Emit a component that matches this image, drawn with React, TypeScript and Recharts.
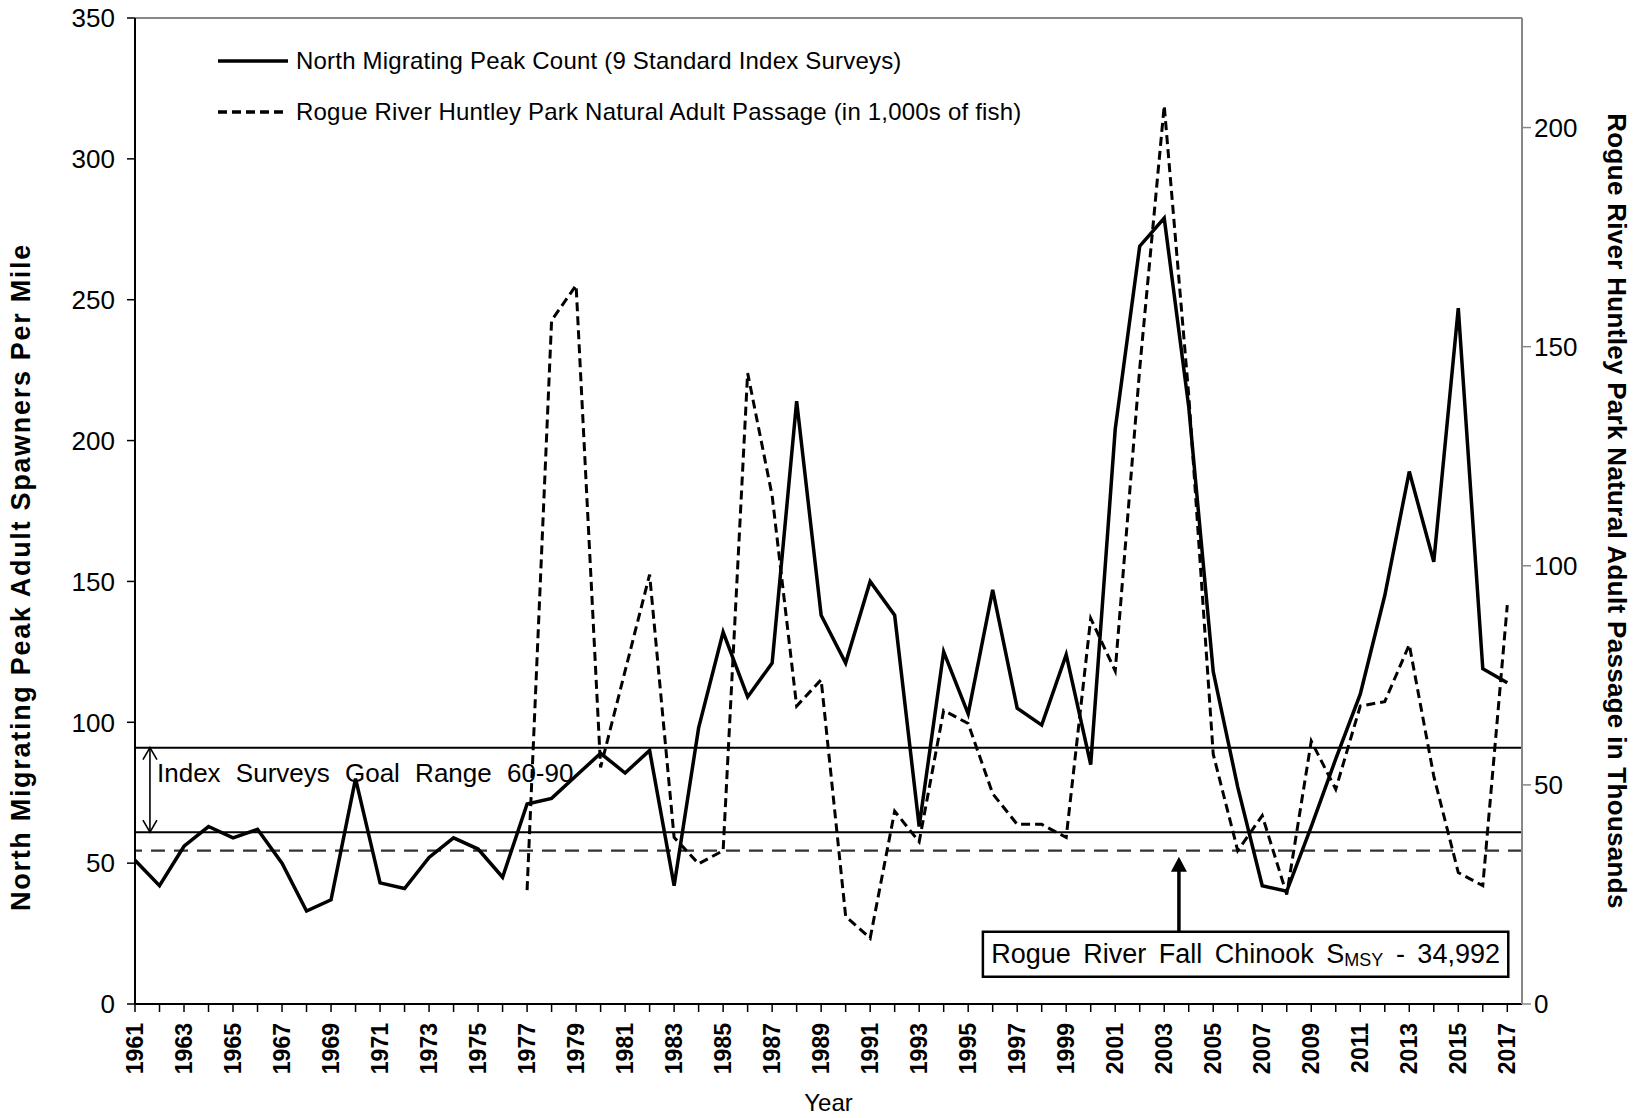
import { Legend, Line, LineChart, ReferenceArea, ReferenceLine, XAxis, YAxis } from 'recharts';

const FONT = "'Liberation Sans', Arial, sans-serif";

const years = [
  1961, 1962, 1963, 1964, 1965, 1966, 1967, 1968, 1969, 1970, 1971, 1972, 1973, 1974, 1975, 1976,
  1977, 1978, 1979, 1980, 1981, 1982, 1983, 1984, 1985, 1986, 1987, 1988, 1989, 1990, 1991, 1992,
  1993, 1994, 1995, 1996, 1997, 1998, 1999, 2000, 2001, 2002, 2003, 2004, 2005, 2006, 2007, 2008,
  2009, 2010, 2011, 2012, 2013, 2014, 2015, 2016, 2017,
];

// North migrating peak adult spawners per mile (left axis), 1961-2017
const spawnersPerMile = [
  51, 42, 56, 63, 59, 62, 50, 33, 37, 80, 43, 41, 52, 59, 55, 45,
  71, 73, 81, 89, 82, 90, 42, 98, 132, 109, 121, 214, 138, 121, 150, 138,
  63, 125, 103, 147, 105, 99, 124, 85, 204, 269, 279, 212, 118, 77, 42, 40,
  63, 87, 110, 145, 189, 157, 247, 119, 114,
];

// Huntley Park natural adult passage, thousands of fish (right axis), 1977-2017
const passageStartYear = 1977;
const huntleyPassage = [
  26, 156, 164, 54, 76, 98, 38, 32, 35, 144, 116, 68, 74, 20, 15, 44,
  37, 67, 64, 48, 41, 41, 38, 88, 76, 145, 205, 139, 57, 35, 43, 25,
  60, 49, 68, 69, 82, 52, 30, 27, 91,
];

const leftTicks = [0, 50, 100, 150, 200, 250, 300, 350];
const rightTicks = [0, 50, 100, 150, 200];
const goalLow = 61;
const goalHigh = 91;
const smsyThousands = 34.992;

const legendItems = [
  { label: 'North Migrating Peak Count (9 Standard Index Surveys)', dash: undefined },
  { label: 'Rogue River Huntley Park Natural Adult Passage (in 1,000s of fish)', dash: '9 5' },
];

const data = years.map((year, i) => ({
  year,
  spawners: spawnersPerMile[i],
  passage: year >= passageStartYear ? huntleyPassage[year - passageStartYear] : null,
}));

function YearTick({ x, y, payload }: any) {
  if (payload.value % 2 === 0) return <g />;
  return (
    <text
      transform={`translate(${x},${y + 9}) rotate(-90)`}
      textAnchor="end"
      dominantBaseline="central"
      fontFamily={FONT}
      fontWeight="bold"
      fontSize={23}
      fill="#000"
    >
      {payload.value}
    </text>
  );
}

function DoubleArrow({ x1, y1, x2, y2 }: any) {
  const top = Math.min(y1, y2);
  const bottom = Math.max(y1, y2);
  return (
    <g stroke="#000" strokeWidth={1.6} fill="none">
      <line x1={x1} y1={top} x2={x2} y2={bottom} />
      <polyline points={`${x1 - 7},${top + 12} ${x1},${top} ${x1 + 7},${top + 12}`} />
      <polyline points={`${x1 - 7},${bottom - 12} ${x1},${bottom} ${x1 + 7},${bottom - 12}`} />
    </g>
  );
}

function UpArrow({ x1, y1, x2, y2 }: any) {
  const top = Math.min(y1, y2);
  const bottom = Math.max(y1, y2);
  return (
    <g>
      <line x1={x1} y1={top + 10} x2={x2} y2={bottom} stroke="#000" strokeWidth={3.5} />
      <polygon points={`${x1 - 8},${top + 15} ${x1},${top} ${x1 + 8},${top + 15}`} fill="#000" />
    </g>
  );
}

function renderLegend() {
  return (
    <div style={{ fontFamily: FONT, fontSize: 24, color: '#000' }}>
      {legendItems.map((item) => (
        <div key={item.label} style={{ display: 'flex', alignItems: 'center', height: 51 }}>
          <svg width={70} height={8} style={{ marginRight: 8 }}>
            <line x1={0} y1={4} x2={70} y2={4} stroke="#000" strokeWidth={3.5} strokeDasharray={item.dash} />
          </svg>
          <span style={{ letterSpacing: 0.2, whiteSpace: 'nowrap' }}>{item.label}</span>
        </div>
      ))}
    </div>
  );
}

export default function App() {
  return (
    <div style={{ position: 'absolute', left: 0, top: 0, background: '#fff' }}>
      <LineChart width={1642} height={1118} data={data} margin={{ top: 18, right: 20, bottom: 0, left: 35 }}>
        <XAxis
          dataKey="year"
          type="number"
          domain={[1961, 2017.6]}
          ticks={years}
          interval={0}
          height={114}
          tickSize={8}
          tickMargin={2}
          axisLine={{ stroke: '#000', strokeWidth: 2 }}
          tickLine={{ stroke: '#000', strokeWidth: 1.5 }}
          tick={<YearTick />}
          label={({ viewBox }: any) => (
            <text
              x={viewBox.x + viewBox.width / 2}
              y={viewBox.y + 98}
              textAnchor="middle"
              dominantBaseline="central"
              fontFamily={FONT}
              fontSize={24}
              fill="#000"
            >
              Year
            </text>
          )}
        />
        <YAxis
          yAxisId="left"
          domain={[0, 350]}
          ticks={leftTicks}
          width={100}
          tickSize={8}
          tickMargin={12}
          axisLine={{ stroke: '#000', strokeWidth: 2 }}
          tickLine={{ stroke: '#000', strokeWidth: 1.5 }}
          tick={{ fontFamily: FONT, fontSize: 26, fill: '#000' }}
          label={({ viewBox }: any) => {
            const cx = viewBox.x - 14;
            const cy = viewBox.y + viewBox.height / 2 + 66;
            return (
              <text
                x={cx}
                y={cy}
                transform={`rotate(-90, ${cx}, ${cy})`}
                textAnchor="middle"
                dominantBaseline="central"
                fontFamily={FONT}
                fontWeight="bold"
                fontSize={27}
                letterSpacing={1.7}
                fill="#000"
              >
                North Migrating Peak Adult Spawners Per Mile
              </text>
            );
          }}
        />
        <YAxis
          yAxisId="right"
          orientation="right"
          domain={[0, 225]}
          ticks={rightTicks}
          width={100}
          tickSize={9}
          tickMargin={3}
          axisLine={{ stroke: '#888', strokeWidth: 2 }}
          tickLine={{ stroke: '#888', strokeWidth: 1.5 }}
          tick={{ fontFamily: FONT, fontSize: 26, fill: '#000' }}
          label={({ viewBox }: any) => {
            const cx = viewBox.x + 95;
            const cy = viewBox.y + viewBox.height / 2;
            return (
              <text
                x={cx}
                y={cy}
                transform={`rotate(90, ${cx}, ${cy})`}
                textAnchor="middle"
                dominantBaseline="central"
                fontFamily={FONT}
                fontWeight="bold"
                fontSize={26}
                letterSpacing={0.3}
                fill="#000"
              >
                Rogue River Huntley Park Natural Adult Passage in Thousands
              </text>
            );
          }}
        />
        <Legend
          layout="horizontal"
          verticalAlign="middle"
          align="center"
          content={renderLegend}
          wrapperStyle={{ left: 218, top: 35, width: 900, height: 102 }}
        />

        <ReferenceLine yAxisId="left" y={350} stroke="#888" strokeWidth={2} />
        <ReferenceLine
          yAxisId="left"
          y={goalHigh}
          stroke="#000"
          strokeWidth={2}
          label={({ viewBox }: any) => (
            <text
              x={viewBox.x + 22}
              y={viewBox.y + 25}
              dominantBaseline="central"
              fontFamily={FONT}
              fontSize={26}
              wordSpacing={8}
              fill="#000"
            >
              Index Surveys Goal Range 60-90
            </text>
          )}
        />
        <ReferenceLine yAxisId="left" y={goalLow} stroke="#000" strokeWidth={2} />
        <ReferenceLine
          yAxisId="left"
          segment={[
            { x: 1961.61, y: goalLow },
            { x: 1961.61, y: goalHigh },
          ]}
          shape={DoubleArrow}
        />
        <ReferenceLine yAxisId="right" y={smsyThousands} stroke="#333" strokeWidth={2.2} strokeDasharray="14 9" />

        <Line
          yAxisId="right"
          type="linear"
          dataKey="passage"
          stroke="#000"
          strokeWidth={3}
          strokeDasharray="9 5"
          dot={false}
          activeDot={false}
          isAnimationActive={false}
        />
        <Line
          yAxisId="left"
          type="linear"
          dataKey="spawners"
          stroke="#000"
          strokeWidth={3.5}
          dot={false}
          activeDot={false}
          isAnimationActive={false}
        />

        <ReferenceLine
          yAxisId="right"
          segment={[
            { x: 2003.6, y: 16.5 },
            { x: 2003.6, y: 33.6 },
          ]}
          shape={UpArrow}
        />
        <ReferenceArea
          yAxisId="right"
          x1={1995.6}
          x2={2017.04}
          y1={6.2}
          y2={16.5}
          fill="#fff"
          fillOpacity={1}
          stroke="#000"
          strokeWidth={2.5}
          label={({ viewBox }: any) => (
            <text
              x={viewBox.x + viewBox.width / 2}
              y={viewBox.y + viewBox.height / 2}
              textAnchor="middle"
              dominantBaseline="central"
              fontFamily={FONT}
              fontSize={27}
              wordSpacing={5}
              fill="#000"
            >
              Rogue River Fall Chinook S
              <tspan fontSize={18} dy={6}>
                MSY
              </tspan>
              <tspan dy={-6}> - 34,992</tspan>
            </text>
          )}
        />
      </LineChart>
    </div>
  );
}
